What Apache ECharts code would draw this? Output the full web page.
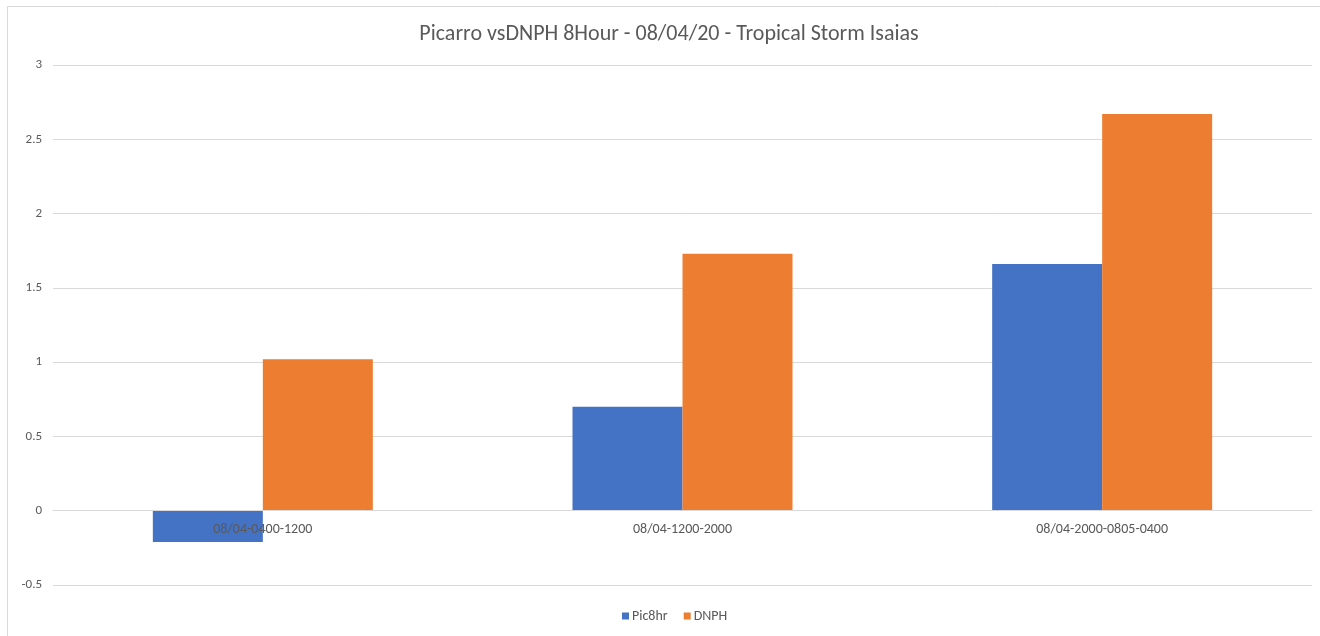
<!DOCTYPE html>
<html>
<head>
<meta charset="utf-8">
<style>
  html, body { margin: 0; padding: 0; background: #ffffff; }
  #chart { width: 1320px; height: 636px; }
</style>
<script src="https://cdn.jsdelivr.net/npm/echarts@6/dist/echarts.min.js"></script>
</head>
<body>
<div id="chart"></div>
<script>
// Sampling windows (8-hour periods) during Tropical Storm Isaias
const categories = ['08/04-0400-1200', '08/04-1200-2000', '08/04-2000-0805-0400'];
const pic8hr = [-0.21, 0.70, 1.66];
const dnph = [1.02, 1.73, 2.67];
const yTicks = { min: -0.5, max: 3, interval: 0.5 };

const textColor = '#595959';
const gridColor = '#D9D9D9';
const fontFamily = 'Calibri, Carlito, "Open Sans", "Liberation Sans", sans-serif';

const chartHeight = 636;
const grid = { left: 53, right: 8, top: 65, bottom: 51 };
// Category labels sit along the zero line, so lift the x axis from the plot bottom to y = 0
const plotHeight = chartHeight - grid.top - grid.bottom;
const zeroOffset = -plotHeight * (0 - yTicks.min) / (yTicks.max - yTicks.min);

const chart = echarts.init(document.getElementById('chart'));
chart.setOption({
  animation: false,
  backgroundColor: '#ffffff',
  textStyle: { fontFamily: fontFamily },
  graphic: [{
    type: 'rect',
    shape: { x: 7.5, y: 6.5, width: 1330, height: 660 },
    style: { fill: 'none', stroke: gridColor, lineWidth: 1 },
    silent: true,
    z: -1
  }],
  title: {
    text: 'Picarro vsDNPH 8Hour - 08/04/20 - Tropical Storm Isaias',
    left: 664,
    textAlign: 'center',
    top: 18,
    textStyle: { color: textColor, fontSize: 22, fontWeight: 'normal', fontFamily: fontFamily }
  },
  legend: {
    bottom: 8,
    left: 617,
    itemWidth: 7,
    itemHeight: 7,
    itemGap: 16,
    icon: 'rect',
    textStyle: { color: textColor, fontSize: 14, fontFamily: fontFamily, padding: [0, 0, 0, -2] },
    data: ['Pic8hr', 'DNPH']
  },
  grid: Object.assign({ containLabel: false }, grid),
  xAxis: {
    type: 'category',
    data: categories,
    z: 10,
    offset: zeroOffset,
    axisLine: { onZero: false, lineStyle: { color: gridColor } },
    axisTick: { show: false },
    axisLabel: { color: textColor, fontSize: 14, margin: 12, fontFamily: fontFamily },
    splitLine: { show: false }
  },
  yAxis: {
    type: 'value',
    min: yTicks.min,
    max: yTicks.max,
    interval: yTicks.interval,
    axisLine: { show: false },
    axisTick: { show: false },
    axisLabel: { color: textColor, fontSize: 13, margin: 11, fontFamily: fontFamily },
    splitLine: { lineStyle: { color: gridColor, width: 1 } }
  },
  series: [
    {
      name: 'Pic8hr',
      type: 'bar',
      data: pic8hr,
      barWidth: 110,
      barGap: '0%',
      itemStyle: { color: '#4472C4' }
    },
    {
      name: 'DNPH',
      type: 'bar',
      data: dnph,
      barWidth: 110,
      barGap: '0%',
      itemStyle: { color: '#ED7D31' }
    }
  ]
});
</script>
</body>
</html>
